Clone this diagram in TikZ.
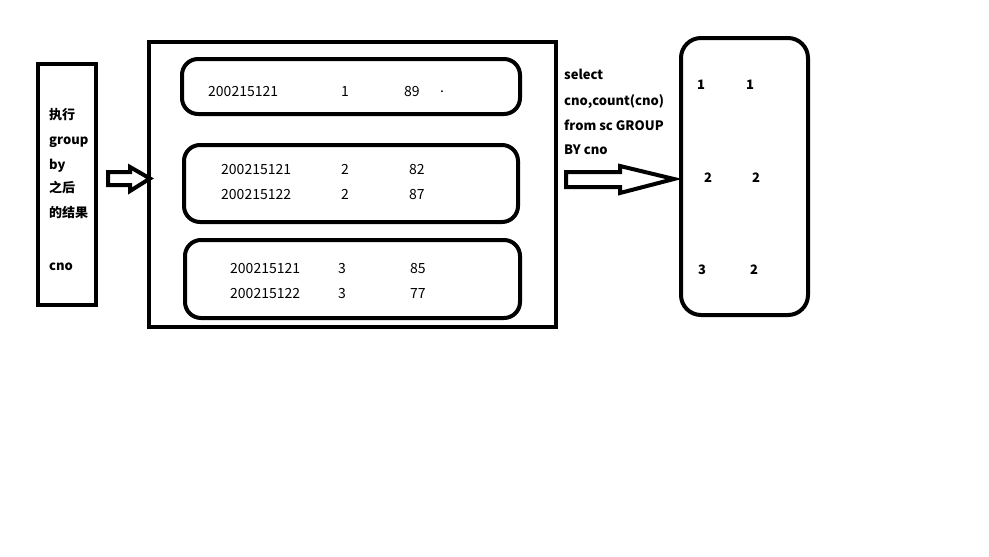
\documentclass[tikz,border=0pt]{standalone}
\usepackage{fontspec}
\setmainfont{Noto Sans CJK SC}
\begin{document}
\begin{tikzpicture}[x=1pt,y=-1pt,
  frame/.style={draw=black,line width=4pt},
  rowbox/.style={draw=black,line width=4pt,rounded corners=16pt},
  lbl/.style={anchor=base west,inner sep=0pt,yshift=-5pt,font=\fontsize{14}{16}\selectfont},
  blbl/.style={anchor=base west,inner sep=0pt,yshift=-4.7pt,font=\fontsize{13}{15}\selectfont\bfseries},
  blockarrow/.style={draw=black,line width=4pt,line join=miter,fill=white}]
\useasboundingbox (0,0) rectangle (989,557);
% left box
\draw[frame] (38,64) rectangle (96,305);
\node[blbl] (t1) at (49,115) {执行};
\node[blbl] (t2) at (49,140) {group};
\node[blbl] (t3) at (49,165) {by};
\node[blbl] (t4) at (49,188) {之后};
\node[blbl] (t5) at (49,213) {的结果};
\node[blbl] (t6) at (49,266) {cno};
% small arrow
\draw[blockarrow] (108,172) -- (130,172) -- (130,167) -- (150,178.5) -- (130,191) -- (130,185) -- (108,185) -- cycle;
% big box
\draw[frame] (149,42) rectangle (556,327);
% rows
\draw[rowbox] (182,59) rectangle (520,114);
\draw[rowbox] (184,145) rectangle (518,222);
\draw[rowbox] (185,240) rectangle (520,318);
\node[lbl] (r1a) at (208,91) {200215121};
\node[lbl] (r1b) at (341,91) {1};
\node[lbl] (r1c) at (404,91) {89};
\node[lbl] (r1d) at (440,87) {.};
\node[lbl] (r2a) at (221,169) {200215121};
\node[lbl] (r2b) at (341,169) {2};
\node[lbl] (r2c) at (409,169) {82};
\node[lbl] (r3a) at (221,194) {200215122};
\node[lbl] (r3b) at (341,194) {2};
\node[lbl] (r3c) at (409,194) {87};
\node[lbl] (r4a) at (230,268) {200215121};
\node[lbl] (r4b) at (338,268) {3};
\node[lbl] (r4c) at (410,268) {85};
\node[lbl] (r5a) at (230,293) {200215122};
\node[lbl] (r5b) at (338,293) {3};
\node[lbl] (r5c) at (410,293) {77};
% query text
\node[blbl] (q1) at (564,75) {select};
\node[blbl] (q2) at (564,101) {cno,count(cno)};
\node[blbl] (q3) at (564,126) {from sc GROUP};
\node[blbl] (q4) at (564,150) {BY cno};
% big arrow
\draw[blockarrow] (566,172) -- (620,172) -- (620,166) -- (674,179) -- (620,193) -- (620,187) -- (566,187) -- cycle;
% result box
\draw[rowbox,rounded corners=20pt] (681,38) rectangle (808,315);
\node[blbl] (s1a) at (697,85) {1};
\node[blbl] (s1b) at (746,85) {1};
\node[blbl] (s2a) at (704,178) {2};
\node[blbl] (s2b) at (752,178) {2};
\node[blbl] (s3a) at (698,270) {3};
\node[blbl] (s3b) at (750,270) {2};
\end{tikzpicture}
\end{document}
